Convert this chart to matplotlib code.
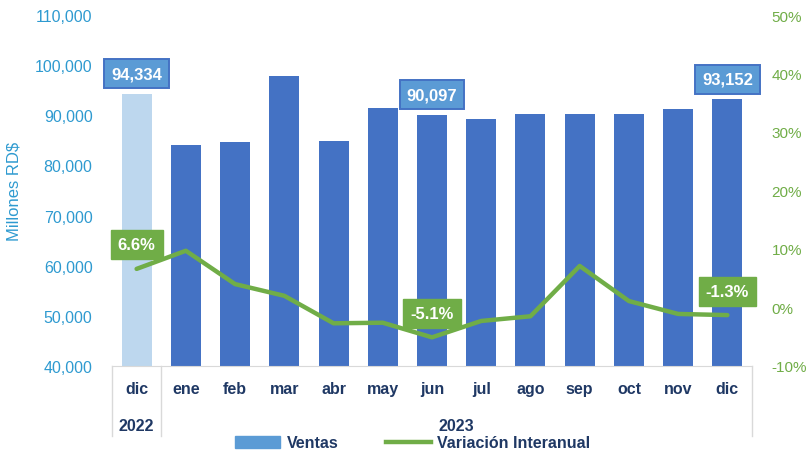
import numpy as np
import matplotlib.pyplot as plt
from matplotlib.patches import Patch
from matplotlib.lines import Line2D

# --- data ---
months = ["dic", "ene", "feb", "mar", "abr", "may", "jun",
          "jul", "ago", "sep", "oct", "nov", "dic"]
years = ["2022", "2023"]
year_sizes = [1, 12]
ventas = [94334, 84100, 84600, 97900, 84800, 91400, 90097,
          89300, 90200, 90200, 90200, 91200, 93152]
variacion = [6.6, 9.7, 4.0, 2.0, -2.7, -2.6, -5.1,
             -2.3, -1.5, 7.1, 1.1, -1.1, -1.3]
bar_labels_idx = [0, 6, 12]
line_labels_idx = [0, 6, 12]

BLUE = "#4472C4"
LIGHT = "#BDD7EE"
BOX_BLUE = "#5B9BD5"
GREEN = "#70AD47"
NAVY = "#1F3864"
AXBLUE = "#2E9AD0"

plt.rcParams['font.family'] = ['Liberation Sans', 'DejaVu Sans']

fig = plt.figure(figsize=(8.06, 4.52), dpi=100)
ax = fig.add_axes([112 / 806, 85 / 452, 640 / 806, 351 / 452])
ax2 = ax.twinx()

x = np.arange(len(months))
colors = [LIGHT] + [BLUE] * (len(months) - 1)
ax.bar(x, ventas, width=0.61, color=colors, zorder=2)
ax.set_ylim(40000, 110000)
ax.set_xlim(-0.5, len(months) - 0.5)
ax.set_yticks(np.arange(40000, 110001, 10000))
ax.yaxis.set_major_formatter(plt.FuncFormatter(lambda v, p: f"{int(v):,}"))
ax.tick_params(axis='y', colors=AXBLUE, labelsize=11.5, length=0, pad=14)
ax.set_xticks([])
ax.set_ylabel("Millones RD$", color=AXBLUE, fontsize=12, labelpad=10)
for s in ["top", "right", "left"]:
    ax.spines[s].set_visible(False)
ax.spines["bottom"].set_color("#D9D9D9")

ax2.plot(x, variacion, color=GREEN, lw=3.2, solid_capstyle='round',
         solid_joinstyle='round', zorder=3)
ax2.set_ylim(-10, 50)
ax2.set_yticks(np.arange(-10, 51, 10))
ax2.yaxis.set_major_formatter(plt.FuncFormatter(lambda v, p: f"{int(v)}%"))
ax2.tick_params(axis='y', colors=GREEN, labelsize=11, length=0, pad=14)
for s in ["top", "right", "left", "bottom"]:
    ax2.spines[s].set_visible(False)

# data labels
for i in bar_labels_idx:
    ax.annotate(f"{ventas[i]:,}", xy=(x[i], ventas[i]), xytext=(0, 20),
                textcoords='offset pixels', ha='center', va='center',
                color='white', fontsize=12, fontweight='bold', zorder=5,
                bbox=dict(boxstyle='square,pad=0.42', fc=BOX_BLUE, ec=BLUE, lw=1.4))
for i in line_labels_idx:
    ax2.annotate(f"{variacion[i]:.1f}%", xy=(x[i], variacion[i]), xytext=(0, 24),
                 textcoords='offset pixels', ha='center', va='center',
                 color='white', fontsize=12, fontweight='bold', zorder=5,
                 bbox=dict(boxstyle='square,pad=0.42', fc=GREEN, ec=GREEN))

# multi-level category axis
trans = ax.get_xaxis_transform()
px = 1 / 351.0
for i, m in enumerate(months):
    ax.text(x[i], -23 * px, m, transform=trans, ha='center', va='center',
            color=NAVY, fontsize=11.5, fontweight='bold')
start = 0
bounds = [-0.5]
for yr, n in zip(years, year_sizes):
    ax.text(start + (n - 1) / 2, -60 * px, yr, transform=trans, ha='center',
            va='center', color=NAVY, fontsize=11.5, fontweight='bold')
    start += n
    bounds.append(start - 0.5)
for b in bounds:
    ax.plot([b, b], [0, -70 * px], transform=trans, color="#D9D9D9",
            lw=1, clip_on=False)

handles = [Patch(color=BOX_BLUE, label="Ventas"),
           Line2D([0], [0], color=GREEN, lw=3.2, label="Variación Interanual")]
leg = fig.legend(handles=handles, loc='center', bbox_to_anchor=(413 / 806, 8 / 452),
                 ncol=2, frameon=False, fontsize=11.5, handlelength=2.8,
                 columnspacing=3, handletextpad=0.4)
for t in leg.get_texts():
    t.set_color(NAVY)
    t.set_fontweight('bold')

fig.savefig("out.png", dpi=100)
